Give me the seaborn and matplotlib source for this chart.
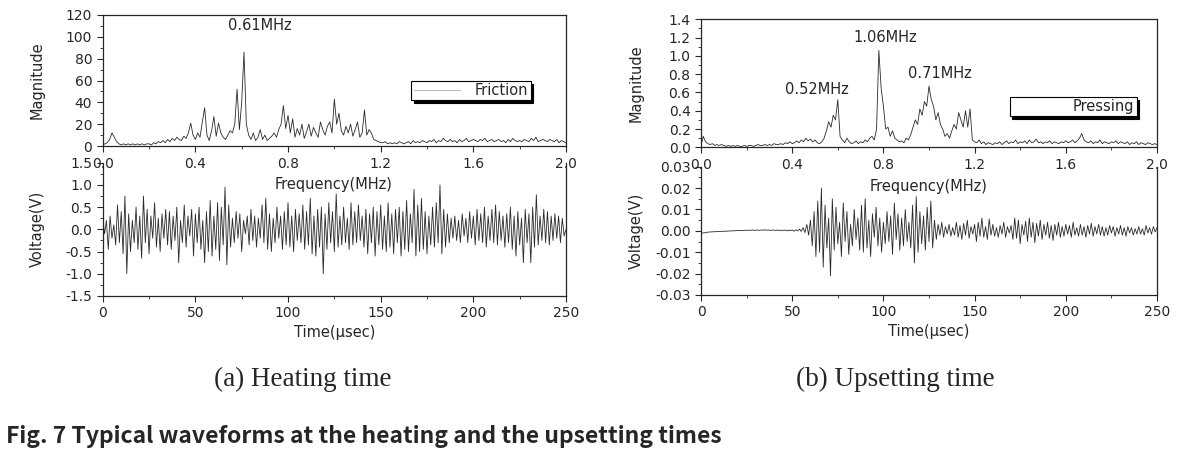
import numpy as np
import pandas as pd
import matplotlib
matplotlib.use('Agg')
import matplotlib.pyplot as plt
from matplotlib.lines import Line2D
from matplotlib.ticker import MultipleLocator, FormatStrFormatter
import seaborn as sns

# ---- data ----
freq_step = 0.01   # MHz
time_step = 1.0    # usec

# (a) heating time, FFT magnitude (0.00 .. 2.00 MHz)
magnitude_a = [
    1, 2, 3, 6, 12, 8, 4, 2, 1, 2,
    1, 2, 1, 2, 1, 2, 1, 2, 1, 2,
    2, 1, 3, 2, 4, 3, 5, 3, 6, 4,
    7, 5, 8, 6, 5, 9, 7, 12, 21, 10,
    6, 12, 8, 22, 35, 10, 5, 14, 27, 9,
    21, 12, 8, 6, 10, 14, 12, 20, 52, 15,
    40, 86, 20, 10, 6, 12, 5, 8, 15, 6,
    10, 5, 7, 9, 12, 8, 15, 20, 37, 16,
    28, 12, 25, 8, 16, 10, 20, 7, 13, 20,
    9, 17, 12, 8, 22, 15, 10, 18, 22, 12,
    43, 20, 30, 14, 10, 18, 12, 20, 9, 15,
    22, 8, 12, 33, 10, 15, 12, 6, 5, 4,
    3, 3, 4, 2, 3, 2, 3, 2, 4, 3,
    2, 3, 4, 2, 5, 3, 4, 3, 5, 4,
    3, 5, 4, 6, 3, 5, 4, 7, 5, 4,
    6, 4, 5, 3, 6, 4, 5, 7, 4, 5,
    6, 5, 4, 6, 5, 7, 4, 5, 6, 4,
    5, 6, 4, 5, 3, 6, 4, 7, 5, 4,
    5, 4, 6, 5, 4, 7, 5, 8, 4, 5,
    6, 5, 4, 6, 5, 4, 6, 3, 5, 4,
    3,
]

# (b) upsetting time, FFT magnitude (0.00 .. 2.00 MHz)
magnitude_b = [
    0.02, 0.12, 0.06, 0.04, 0.03, 0.04, 0.02, 0.03, 0.02, 0.03,
    0.02, 0.01, 0.02, 0.01, 0.02, 0.01, 0.02, 0.01, 0.01, 0.02,
    0.01, 0.02, 0.02, 0.01, 0.02, 0.03, 0.02, 0.02, 0.03, 0.02,
    0.03, 0.02, 0.04, 0.03, 0.03, 0.04, 0.03, 0.05, 0.04, 0.06,
    0.04, 0.05, 0.07, 0.05, 0.08, 0.06, 0.10, 0.07, 0.09, 0.06,
    0.08, 0.05, 0.04, 0.06, 0.10, 0.18, 0.28, 0.22, 0.35, 0.30,
    0.52, 0.12, 0.08, 0.05, 0.10, 0.06, 0.04, 0.05, 0.07, 0.04,
    0.06, 0.05, 0.08, 0.06, 0.10, 0.12, 0.08, 0.20, 1.06, 0.65,
    0.45, 0.20, 0.22, 0.12, 0.18, 0.10, 0.08, 0.06, 0.07, 0.05,
    0.10, 0.08, 0.14, 0.22, 0.30, 0.25, 0.42, 0.35, 0.50, 0.45,
    0.67, 0.52, 0.45, 0.30, 0.38, 0.25, 0.20, 0.12, 0.15, 0.10,
    0.18, 0.25, 0.20, 0.38, 0.30, 0.22, 0.40, 0.22, 0.42, 0.08,
    0.06, 0.05, 0.08, 0.04, 0.06, 0.03, 0.05, 0.04, 0.03, 0.05,
    0.04, 0.06, 0.03, 0.05, 0.07, 0.04, 0.06, 0.05, 0.08, 0.04,
    0.06, 0.05, 0.07, 0.04, 0.08, 0.05, 0.06, 0.09, 0.05, 0.06,
    0.04, 0.06, 0.05, 0.07, 0.04, 0.06, 0.05, 0.04, 0.06, 0.05,
    0.07, 0.05, 0.06, 0.08, 0.05, 0.07, 0.10, 0.15, 0.08, 0.06,
    0.05, 0.07, 0.04, 0.06, 0.05, 0.08, 0.04, 0.06, 0.05, 0.04,
    0.06, 0.05, 0.07, 0.04, 0.06, 0.05, 0.04, 0.06, 0.03, 0.05,
    0.04, 0.06, 0.03, 0.05, 0.04, 0.03, 0.05, 0.04, 0.03, 0.04,
    0.03,
]

# (a) heating time, waveform in V (0 .. 250 usec)
voltage_a = [
    0.25, -0.1, 0.2, -0.45, 0.3, -0.2, 0.1, -0.35, 0.55, -0.3,
    0.4, -0.55, 0.75, -1.0, 0.35, -0.5, 0.2, -0.3, 0.5, -0.45,
    0.3, -0.65, 0.75, -0.3, 0.45, -0.55, 0.3, -0.2, 0.6, -0.4,
    0.25, -0.5, 0.35, -0.2, 0.45, -0.35, 0.4, -0.45, 0.3, -0.25,
    0.5, -0.75, 0.2, -0.3, 0.55, -0.4, 0.3, -0.15, 0.45, -0.6,
    0.35, -0.3, 0.5, -0.45, 0.2, -0.75, 0.4, -0.5, 0.65, -0.6,
    0.3, -0.45, 0.6, -0.7, 0.5, -0.35, 0.95, -0.8, 0.55, -0.4,
    0.25, -0.3, 0.4, -0.2, 0.35, -0.5, 0.2, -0.1, 0.3, -0.35,
    0.45, -0.25, 0.3, -0.4, 0.25, -0.2, 0.55, -0.3, 0.7, -0.45,
    0.35, -0.5, 0.25, -0.3, 0.5, -0.2, 0.3, -0.45, 0.4, -0.35,
    0.6, -0.4, 0.3, -0.5, 0.45, -0.25, 0.35, -0.3, 0.55, -0.45,
    0.4, -0.35, 0.7, -0.55, 0.3, -0.6, 0.45, -0.4, 0.5, -1.0,
    0.35, -0.45, 0.6, -0.3, 0.4, -0.5, 0.8, -0.4, 0.3, -0.35,
    0.5, -0.3, 0.25, -0.45, 0.6, -0.35, 0.4, -0.3, 0.55, -0.25,
    0.3, -0.4, 0.45, -0.55, 0.35, -0.3, 0.5, -0.6, 0.4, -0.35,
    0.55, -0.45, 0.3, -0.5, 0.6, -0.4, 0.35, -0.55, 0.45, -0.3,
    0.5, -0.6, 0.4, -0.45, 0.65, -0.5, 0.35, -0.3, 0.9, -0.6,
    0.55, -0.5, 0.7, -0.45, 0.4, -0.55, 0.3, -0.35, 0.5, -0.4,
    0.6, -0.3, 1.0, -0.55, 0.45, -0.4, 0.35, -0.3, 0.25, -0.2,
    0.3, -0.25, 0.2, -0.3, 0.35, -0.15, 0.25, -0.3, 0.4, -0.2,
    0.3, -0.35, 0.45, -0.25, 0.35, -0.3, 0.5, -0.4, 0.3, -0.25,
    0.45, -0.3, 0.55, -0.35, 0.4, -0.25, 0.3, -0.4, 0.35, -0.3,
    0.5, -0.45, 0.3, -0.6, 0.4, -0.35, 0.25, -0.75, 0.45, -0.3,
    0.35, -0.75, 0.5, -0.4, 0.78, -0.35, 0.3, -0.25, 0.45, -0.3,
    0.4, -0.35, 0.3, -0.25, 0.35, -0.2, 0.3, -0.3, 0.25, -0.15,
    0.0,
]

# (b) upsetting time, waveform in mV (0 .. 250 usec)
voltage_b_mv = [
    -0.8, -1.0, -0.9, -0.7, -0.6, -0.5, -0.5, -0.4, -0.4, -0.3,
    -0.3, -0.2, -0.3, -0.1, -0.2, -0.1, 0.0, -0.1, 0.1, 0.0,
    0.2, 0.1, 0.2, 0.1, 0.3, 0.2, 0.3, 0.2, 0.4, 0.3,
    0.3, 0.4, 0.2, 0.4, 0.3, 0.5, 0.3, 0.4, 0.2, 0.4,
    0.3, 0.2, 0.4, 0.1, 0.3, 0.2, 0.4, 0.0, 0.3, 0.1,
    0.4, -0.2, 0.5, 0.0, 0.8, -0.3, 1.5, -0.8, 3.0, -2.0,
    5.0, -7.0, 9.0, -12.0, 14.0, -10.0, 20.0, -17.0, 12.0, -8.0,
    6.0, -21.0, 15.0, -9.0, 11.0, -6.0, 4.0, -12.0, 13.0, -5.0,
    9.0, -11.0, 3.0, -7.0, 10.0, -4.0, 6.0, -9.0, 12.0, -10.0,
    15.0, -8.0, 5.0, -12.0, 8.0, -3.0, 11.0, -7.0, 6.0, -10.0,
    4.0, -6.0, 9.0, -5.0, 7.0, -11.0, 13.0, -4.0, 8.0, -9.0,
    6.0, -7.0, 10.0, -5.0, 4.0, -8.0, 12.0, -15.0, 16.0, -10.0,
    9.0, -6.0, 7.0, -9.0, 11.0, -5.0, 14.0, -8.0, 5.0, -4.0,
    3.0, -2.0, 4.0, -3.0, 2.0, -1.5, 3.0, -2.5, 1.5, -2.0,
    4.0, -3.0, 2.5, -4.0, 3.5, -2.0, 5.0, -3.5, 2.0, -1.5,
    3.0, -5.0, 4.0, -2.5, 6.0, -3.0, 2.0, -4.0, 5.5, -2.0,
    3.0, -2.5, 1.5, -3.0, 2.5, -1.5, 4.0, -3.0, 2.0, -1.0,
    2.5, -4.0, 6.0, -3.5, 5.0, -6.0, 3.0, -2.0, 4.5, -5.0,
    6.0, -3.0, 4.0, -5.5, 3.5, -2.5, 5.0, -4.0, 3.0, -2.0,
    4.0, -3.5, 2.5, -4.5, 3.0, -2.0, 4.0, -3.0, 2.0, -2.5,
    3.0, -1.5, 2.5, -3.0, 4.0, -2.0, 1.5, -2.5, 3.0, -2.0,
    2.0, -3.0, 2.5, -1.5, 3.5, -2.5, 2.0, -1.5, 3.0, -2.0,
    2.0, -2.5, 1.5, -2.0, 2.5, -1.0, 2.0, -2.5, 1.5, -1.5,
    2.5, -2.0, 1.5, -2.5, 2.0, -1.0, 1.5, -2.0, 1.0, -1.5,
    2.0, -1.5, 1.0, -2.0, 2.5, -1.0, 1.5, -1.5, 2.0, -0.5,
    1.5,
]

peak_labels_a = [(0.54, 110, '0.61MHz')]
peak_labels_b = [(0.37, 0.63, '0.52MHz'), (0.67, 1.20, '1.06MHz'), (0.91, 0.81, '0.71MHz')]

# ---- style ----
sns.set_style('ticks')
plt.rcParams['font.family'] = ['DejaVu Sans']
plt.rcParams['axes.unicode_minus'] = False
plt.rcParams['axes.linewidth'] = 0.9
plt.rcParams['xtick.major.size'] = 4
plt.rcParams['ytick.major.size'] = 4
plt.rcParams['xtick.minor.size'] = 2.5
plt.rcParams['ytick.minor.size'] = 2.5
plt.rcParams['xtick.labelsize'] = 10
plt.rcParams['ytick.labelsize'] = 10

W, H = 1188, 454
fig = plt.figure(figsize=(W / 100, H / 100), dpi=100)


def px_axes(x0, x1, y0, y1):
    return fig.add_axes([x0 / W, 1 - y1 / H, (x1 - x0) / W, (y1 - y0) / H])


line_color = '#2a2a2a'


def spectrum(ax, mag, ymax, ymaj, fmt, legend_text, legend_line, leg_xy):
    df = pd.DataFrame({'f': np.arange(len(mag)) * freq_step, 'm': mag})
    sns.lineplot(data=df, x='f', y='m', ax=ax, color=line_color, linewidth=0.6, estimator=None)
    ax.set_xlim(0, 2.0)
    ax.set_ylim(0, ymax)
    ax.xaxis.set_major_locator(MultipleLocator(0.4))
    ax.xaxis.set_minor_locator(MultipleLocator(0.2))
    ax.yaxis.set_major_locator(MultipleLocator(ymaj))
    ax.yaxis.set_minor_locator(MultipleLocator(ymaj / 2))
    ax.xaxis.set_major_formatter(FormatStrFormatter('%.1f'))
    ax.yaxis.set_major_formatter(FormatStrFormatter(fmt))
    ax.tick_params(axis='x', pad=4)
    ax.set_xlabel('')
    ax.set_ylabel('Magnitude', fontsize=10.5)
    ax.set_zorder(3)
    handle = Line2D([], [], color=legend_line, linewidth=0.8)
    ax.legend([handle], [legend_text], loc='center', bbox_to_anchor=leg_xy,
              fontsize=10.5, frameon=True, fancybox=False, framealpha=1,
              edgecolor='black', handlelength=3.2, borderpad=0.15,
              handletextpad=1.0, borderaxespad=0,
              shadow={'color': 'black', 'alpha': 1.0})
    ax.get_legend().get_frame().set_linewidth(0.8)


def waveform(ax, t, v, lim, ymaj, fmt):
    df = pd.DataFrame({'t': t, 'v': v})
    sns.lineplot(data=df, x='t', y='v', ax=ax, color=line_color, linewidth=0.6, estimator=None)
    ax.set_xlim(0, 250)
    ax.set_ylim(-lim, lim)
    ax.xaxis.set_major_locator(MultipleLocator(50))
    ax.xaxis.set_minor_locator(MultipleLocator(25))
    ax.yaxis.set_major_locator(MultipleLocator(ymaj))
    ax.yaxis.set_minor_locator(MultipleLocator(ymaj / 2))
    ax.yaxis.set_major_formatter(FormatStrFormatter(fmt))
    ax.spines['top'].set_visible(False)
    ax.patch.set_visible(False)
    ax.set_zorder(1)
    ax.set_xlabel('Time(\u00b5sec)', fontsize=10.5, labelpad=3)
    ax.set_ylabel('Voltage(V)', fontsize=10.5)


time = np.arange(len(voltage_a)) * time_step

# panel (a)
ax_a1 = px_axes(102.7, 566, 15, 146)
spectrum(ax_a1, magnitude_a, 120, 20, '%d', 'Friction', '#bbbbbb', (0.795, 0.424))
for x, y, s in peak_labels_a:
    ax_a1.text(x, y, s, fontsize=10.5, ha='left', va='center')
ax_a2 = px_axes(102.7, 566, 162.7, 296)
waveform(ax_a2, time, voltage_a, 1.5, 0.5, '%.1f')
ax_a2.yaxis.set_minor_locator(MultipleLocator(0.25))

# panel (b)
ax_b1 = px_axes(701, 1157, 19.3, 147.3)
spectrum(ax_b1, magnitude_b, 1.4, 0.2, '%.1f', 'Pressing', 'white', (0.816, 0.319))
for x, y, s in peak_labels_b:
    ax_b1.text(x, y, s, fontsize=10.5, ha='left', va='center')
ax_b2 = px_axes(701, 1157, 166.7, 295)
waveform(ax_b2, time, np.array(voltage_b_mv) / 1000.0, 0.03, 0.01, '%.2f')

for ax in (ax_a1, ax_a2, ax_b1, ax_b2):
    ax.yaxis.set_label_coords(-0.125, 0.5)

fig.text(334 / W, 1 - 185 / H, 'Frequency(MHz)', fontsize=10.5, ha='center', va='center')
fig.text(929 / W, 1 - 187 / H, 'Frequency(MHz)', fontsize=10.5, ha='center', va='center')

# captions
fig.text(303 / W, 1 - 379 / H, '(a) Heating time', fontsize=19.5, ha='center', va='center',
         family=['Liberation Serif'])
fig.text(895 / W, 1 - 379 / H, '(b) Upsetting time', fontsize=19.5, ha='center', va='center',
         family=['Liberation Serif'])
fig.text(6 / W, 1 - 437 / H, 'Fig. 7 Typical waveforms at the heating and the upsetting times',
         fontsize=16.5, ha='left', va='center', fontweight='bold',
         family=['Noto Sans CJK KR', 'DejaVu Sans'])

fig.savefig('out.png', dpi=100)
